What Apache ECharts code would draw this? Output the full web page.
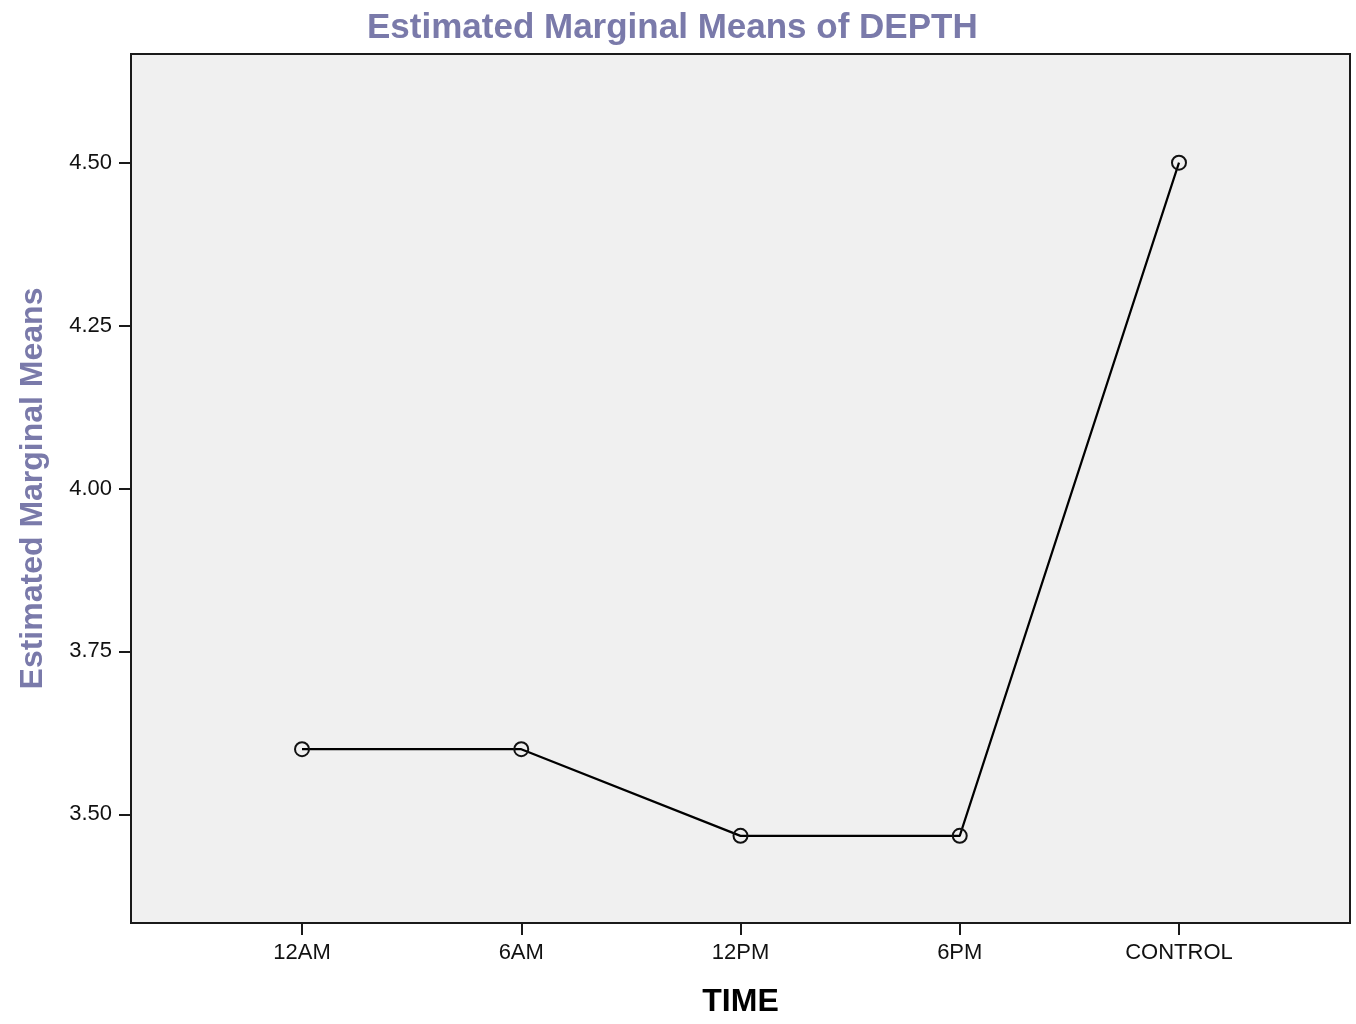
<!DOCTYPE html>
<html>
<head>
<meta charset="utf-8">
<script src="https://cdn.jsdelivr.net/npm/echarts@6/dist/echarts.min.js"></script>
<style>
html,body{margin:0;padding:0;background:#fff;}
#chart{width:1356px;height:1024px;}
</style>
</head>
<body>
<div id="chart"></div>
<script>
var categories = ['12AM', '6AM', '12PM', '6PM', 'CONTROL'];
var means = [3.60, 3.60, 3.467, 3.467, 4.50];
var yTicks = [3.50, 3.75, 4.00, 4.25, 4.50];

var positions = categories.map(function (c, i) { return i; });
var seriesData = means.map(function (v, i) { return [positions[i], v]; });

var FONT = 'Arial, "Liberation Sans", sans-serif';
var chart = echarts.init(document.getElementById('chart'), null, {renderer: 'canvas'});
chart.setOption({
  animation: false,
  backgroundColor: '#ffffff',
  title: {
    text: 'Estimated Marginal Means of DEPTH',
    left: 362,
    top: 6,
    textStyle: {fontFamily: FONT, fontSize: 35, fontWeight: 'bold', color: '#7a7aaa'}
  },
  grid: {
    left: 131, right: 6, top: 54, bottom: 101,
    show: true, backgroundColor: '#f0f0f0', borderColor: '#1a1a1a', borderWidth: 2
  },
  xAxis: {
    type: 'value',
    min: -0.78, max: 4.78,
    name: 'TIME',
    nameLocation: 'middle',
    nameGap: 63,
    nameTextStyle: {fontFamily: FONT, fontSize: 32, fontWeight: 'bold', color: '#000'},
    splitLine: {show: false},
    axisLine: {show: true, onZero: false, lineStyle: {color: '#1a1a1a', width: 2}},
    axisTick: {show: true, length: 12, lineStyle: {color: '#1a1a1a', width: 2}, customValues: positions},
    axisLabel: {
      customValues: positions,
      margin: 19,
      fontFamily: FONT, fontSize: 22, color: '#111',
      formatter: function (v) { return categories[Math.round(v)]; }
    }
  },
  yAxis: {
    type: 'value',
    min: 3.3333, max: 4.6667,
    name: 'Estimated Marginal Means',
    nameLocation: 'middle',
    nameGap: 82,
    nameTextStyle: {fontFamily: FONT, fontSize: 32, fontWeight: 'bold', color: '#7a7aaa'},
    splitLine: {show: false},
    axisLine: {show: true, onZero: false, lineStyle: {color: '#1a1a1a', width: 2}},
    axisTick: {show: true, length: 12, lineStyle: {color: '#1a1a1a', width: 2}, customValues: yTicks},
    axisLabel: {
      customValues: yTicks,
      margin: 19,
      fontFamily: FONT, fontSize: 22, color: '#111',
      formatter: function (v) { return v.toFixed(2); }
    }
  },
  series: [{
    type: 'line',
    data: seriesData,
    symbol: 'circle',
    symbolSize: 14,
    lineStyle: {color: '#000', width: 2.2},
    itemStyle: {color: 'rgba(240,240,240,0)', borderColor: '#111', borderWidth: 2},
    z: 3
  }]
});
</script>
</body>
</html>
